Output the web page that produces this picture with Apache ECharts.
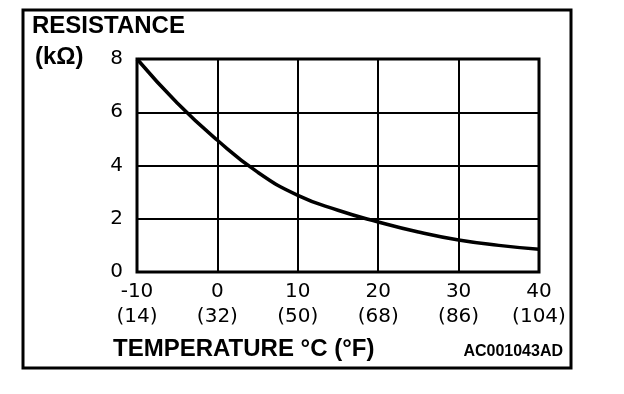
<!DOCTYPE html>
<html>
<head>
<meta charset="utf-8">
<script src="https://cdn.jsdelivr.net/npm/echarts@6/dist/echarts.min.js"></script>
<style>
html,body{margin:0;padding:0;background:#fff;}
#c{width:624px;height:394px;}
</style>
</head>
<body>
<div id="c"></div>
<script>
// Data
var tempC = [-10, -5, 0, 5, 10, 15, 20, 25, 30, 35, 40];
var resistance = [8.0, 6.35, 4.95, 3.75, 2.88, 2.32, 1.88, 1.5, 1.2, 1.0, 0.85];
var tickC = [-10, 0, 10, 20, 30, 40];
var tickF = [14, 32, 50, 68, 86, 104];
var yTicks = [0, 2, 4, 6, 8];

var FONT = '"Liberation Sans", Arial, Helvetica, sans-serif';
var TICKFONT = '"DejaVu Sans", "Liberation Sans", sans-serif';
var chart = echarts.init(document.getElementById('c'), null, {renderer: 'canvas'});
var points = tempC.map(function (t, i) { return [t, resistance[i]]; });

chart.setOption({
  animation: false,
  backgroundColor: '#fff',
  grid: {
    left: 137, top: 59, width: 402, height: 213,
    show: true, borderColor: '#000', borderWidth: 3, containLabel: false
  },
  xAxis: {
    type: 'value', min: tickC[0], max: tickC[tickC.length - 1], interval: 10,
    axisLine: {show: false},
    axisTick: {show: false},
    splitLine: {show: true, lineStyle: {color: '#000', width: 2}},
    axisLabel: {
      color: '#000', fontFamily: TICKFONT, fontSize: 20, lineHeight: 25, margin: 7,
      formatter: function (v) {
        var i = tickC.indexOf(v);
        return v + '\n(' + tickF[i] + ')';
      }
    }
  },
  yAxis: {
    type: 'value', min: yTicks[0], max: yTicks[yTicks.length - 1], interval: 2,
    axisLine: {show: false},
    axisTick: {show: false},
    splitLine: {show: true, lineStyle: {color: '#000', width: 2}},
    axisLabel: {color: '#000', fontFamily: TICKFONT, fontSize: 20, margin: 14, padding: [4, 0, 0, 0]}
  },
  series: [{
    type: 'line', data: points, smooth: true, symbol: 'none',
    lineStyle: {color: '#000', width: 3.5}
  }],
  graphic: [
    {type: 'rect', shape: {x: 23, y: 10, width: 548, height: 358},
     style: {fill: null, stroke: '#000', lineWidth: 3}, z: -1},
    {type: 'text', left: 32, top: 14,
     style: {text: 'RESISTANCE', font: 'bold 24px ' + FONT, fill: '#000'}},
    {type: 'text', left: 35, top: 45,
     style: {text: '(kΩ)', font: 'bold 24px ' + FONT, fill: '#000'}},
    {type: 'text', left: 113, top: 337,
     style: {text: 'TEMPERATURE °C (°F)', font: 'bold 24px ' + FONT, fill: '#000'}},
    {type: 'text', right: 61, top: 344,
     style: {text: 'AC001043AD', font: 'bold 16px ' + FONT, fill: '#000'}}
  ]
});
</script>
</body>
</html>
